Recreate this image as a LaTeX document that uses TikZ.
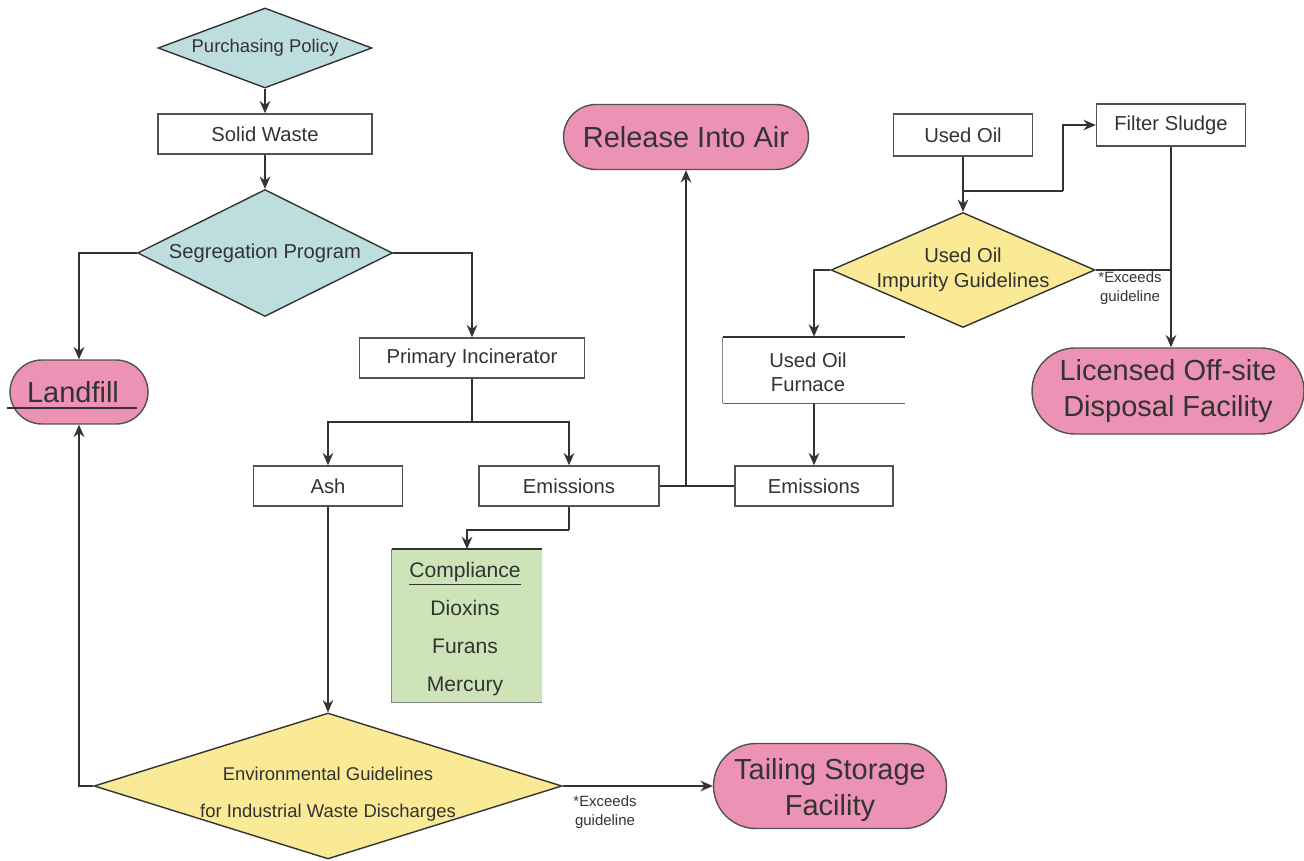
\documentclass[tikz,border=0pt]{standalone}
\usepackage{fontspec}
\setmainfont{Liberation Sans}
\usepackage{tikz}
\usetikzlibrary{shapes.geometric,arrows.meta}
\definecolor{tealfill}{HTML}{BEDDDE}
\definecolor{yellowfill}{HTML}{FAE995}
\definecolor{pinkfill}{HTML}{EC92B5}
\definecolor{greenfill}{HTML}{CCE4B8}
\definecolor{ink}{HTML}{333333}

\begin{document}
\begin{tikzpicture}[x=0.02cm,y=-0.02cm,
		box/.style={draw=ink!85,line width=0.8pt,fill=white,minimum height=0.8cm,inner sep=0pt,text=ink,font=\fontsize{11.5}{14}\selectfont},
		decision/.style={diamond,draw=ink,line width=0.8pt,inner sep=0pt},
		dlabel/.style={text=ink,align=center,inner sep=0pt,font=\fontsize{11.5}{14}\selectfont},
		pill/.style={draw=ink!85,line width=0.8pt,fill=pinkfill,inner sep=0pt,text=ink,align=center,font=\fontsize{16.5}{20}\selectfont},
		arr/.style={line width=1pt,draw=ink,-{Stealth[length=7pt,width=6pt]}},
		link/.style={line width=1pt,draw=ink},
		note/.style={text=ink,align=center,inner sep=0pt,font=\fontsize{8.5}{10.5}\selectfont}]
		\useasboundingbox (0,0) rectangle (1304,861);

		% left column
		\node[decision,minimum width=4.28cm,minimum height=1.6cm,fill=tealfill,label={[dlabel,font=\fontsize{10.5}{12}\selectfont]center:Purchasing Policy}] (policy) at (265,48) {};
		\node[box,minimum width=4.28cm] (solid) at (265,134) {Solid Waste};
		\node[decision,minimum width=5.1cm,minimum height=2.54cm,fill=tealfill,label={[dlabel]center:Segregation Program}] (segregation) at (265,253) {};
		\node[pill,minimum width=2.76cm,minimum height=1.28cm,rounded corners=0.64cm] (landfill) at (79,392) {};
		\node[text=ink,inner sep=0pt,font=\fontsize{16.5}{20}\selectfont] (landfilltext) at (73,392) {Landfill};
		\draw[line width=1pt,ink] (7,408) -- (137,408);

		% incinerator
		\node[box,minimum width=4.5cm] (incinerator) at (472,358) {Primary Incinerator};
		\node[box,minimum width=2.98cm] (ash) at (328,486) {Ash};
		\node[box,minimum width=3.6cm] (emissions) at (569,486) {Emissions};
		\node[fill=greenfill,minimum width=3cm,minimum height=3.06cm,inner sep=0pt] (compliance) at (467,626) {};
		\node[dlabel,font=\fontsize{12}{21.5}\selectfont] (compliancetext) at (465,629) {\underline{Compliance}\\Dioxins\\Furans\\Mercury};
		\draw[line width=1pt,ink] (compliance.north west) -- (compliance.north east);
		\draw[line width=0.6pt,ink!60] (compliance.north west) -- (compliance.south west) -- (compliance.south east);
		\node[decision,minimum width=9.36cm,minimum height=2.92cm,fill=yellowfill,label={[dlabel,font=\fontsize{10.5}{21}\selectfont,yshift=-0.16cm]center:Environmental Guidelines\\for Industrial Waste Discharges}] (environment) at (328,786) {};
		\node[pill,minimum width=4.66cm,minimum height=1.7cm,rounded corners=0.85cm] (tailing) at (830,786) {};
		\node[dlabel,font=\fontsize{16.5}{20}\selectfont] (tailingtext) at (830,790) {Tailing Storage\\Facility};
		\node[note] (exceeds1) at (605,812) {*Exceeds\\guideline};
		\node[pill,minimum width=4.9cm,minimum height=1.3cm,rounded corners=0.65cm] (release) at (686,137) {Release Into Air};

		% used oil
		\node[box,minimum width=2.78cm,minimum height=0.84cm] (usedoil) at (963,135) {Used Oil};
		\node[box,minimum width=2.98cm,minimum height=0.84cm] (sludge) at (1171,125) {Filter Sludge};
		\node[decision,minimum width=5.28cm,minimum height=2.3cm,fill=yellowfill,label={[dlabel,font=\fontsize{11.5}{14}\selectfont]center:Used Oil\\Impurity Guidelines}] (impurity) at (963,270) {};
		\node[fill=white,minimum width=3.64cm,minimum height=1.32cm,inner sep=0pt] (furnace) at (814,370) {};
		\node[dlabel,font=\fontsize{11.5}{13.5}\selectfont] (furnacetext) at (808,372) {Used Oil\\Furnace};
		\draw[line width=1pt,ink] (furnace.north west) -- (furnace.north east);
		\draw[line width=0.6pt,ink!60] (furnace.north west) -- (furnace.south west);
		\draw[line width=0.8pt,ink!75] (furnace.south west) -- (furnace.south east);
		\node[box,minimum width=3.16cm] (emissionstwo) at (814,486) {Emissions};
		\node[pill,minimum width=5.44cm,minimum height=1.72cm,rounded corners=0.86cm] (offsite) at (1168,391) {Licensed Off-site\\Disposal Facility};
		\node[note] (exceeds2) at (1130,288) {*Exceeds\\guideline};

		% joints
		\coordinate (incsplit) at (472,422);
		\coordinate (emjoin) at (686,486);
		\coordinate (embend) at (569,530);
		\coordinate (oilsplit) at (963,191);
		\coordinate (oilbend) at (1063,191);
		\coordinate (sludgejoin) at (1171,270);

		% connectors
		\draw[arr] (policy.south) -- (solid.north);
		\draw[arr] (solid.south) -- (segregation.north);
		\draw[arr] (segregation.west) -| (landfill.north);
		\draw[arr] (segregation.east) -| (incinerator.north);
		\draw[link] (incinerator.south) -- (incsplit);
		\draw[arr] (incsplit) -| (ash.north);
		\draw[arr] (incsplit) -| (emissions.north);
		\draw[link] (emissions.east) -- (emissionstwo.west);
		\draw[arr] (emjoin) -- (release.south);
		\draw[link] (emissions.south) -- (embend);
		\draw[arr] (embend) -| (compliance.north);
		\draw[arr] (ash.south) -- (environment.north);
		\draw[arr] (environment.west) -| (landfill.south);
		\draw[arr] (environment.east) -- (tailing.west);
		\draw[arr] (usedoil.south) -- (impurity.north);
		\draw[link] (oilsplit) -- (oilbend);
		\draw[arr] (oilbend) |- (sludge.west);
		\draw[arr] (impurity.west) -| (furnace.north);
		\draw[arr] (furnace.south) -- (emissionstwo.north);
		\draw[link] (impurity.east) -- (sludgejoin);
		\draw[arr] (sludge.south) -- (offsite.north -| sludge.south);
	\end{tikzpicture}
\end{document}
